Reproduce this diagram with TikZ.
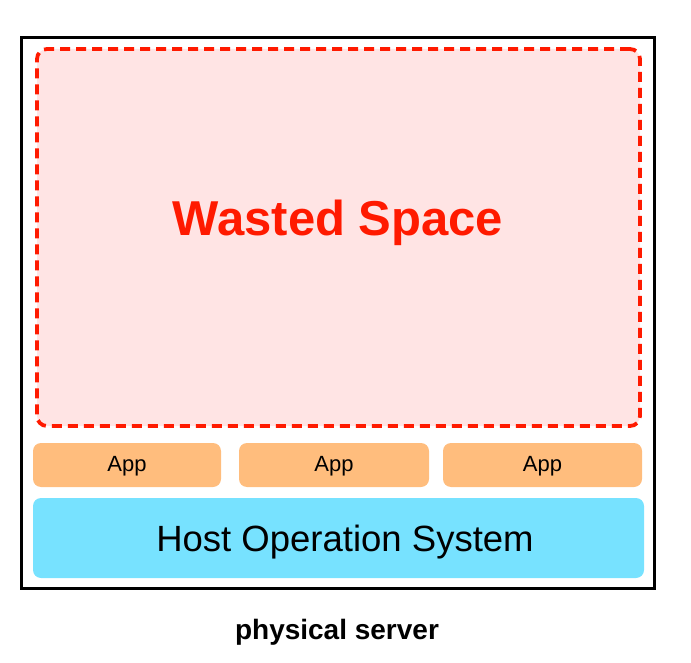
\documentclass[tikz,border=0pt]{standalone}
\usepackage{fontspec}
\setmainfont{Liberation Sans}
\definecolor{wastefill}{HTML}{FFE4E4}
\definecolor{wastered}{HTML}{FF1A00}
\definecolor{appfill}{HTML}{FFBD7D}
\definecolor{hostfill}{HTML}{77E2FF}
\tikzset{
  block/.style={rectangle, inner sep=0pt, outer sep=0pt, rounded corners=8pt},
  appbox/.style={block, fill=appfill, minimum height=44pt, text depth=2pt,
    font=\fontsize{22}{24}\selectfont}
}
\begin{document}
\begin{tikzpicture}[x=1pt,y=-1pt]
  \useasboundingbox (0,0) rectangle (691,663);
  \node[rectangle, draw=black, line width=3pt, minimum width=633pt,
        minimum height=551pt, inner sep=0pt] (server) at (338,313) {};
  \node[block, fill=wastefill, draw=wastered, line width=3.8pt,
        dash pattern=on 10pt off 6pt, rounded corners=10pt,
        minimum width=603pt, minimum height=377pt] (waste) at (338.5,237.5) {};
  \node[text=wastered, font=\bfseries\fontsize{49}{52}\selectfont] (wastelabel)
    at (338,223) {Wasted Space};
  \node[appbox, minimum width=188pt] (app1) at (127,465) {App};
  \node[appbox, minimum width=190pt] (app2) at (334,465) {App};
  \node[appbox, minimum width=199pt] (app3) at (542.5,465) {App};
  \node[block, fill=hostfill, minimum width=611pt, minimum height=80pt] (host)
    at (338.5,538) {};
  \node[font=\fontsize{36.5}{40}\selectfont] (hostlabel)
    at (345,542) {Host Operation System};
  \node[font=\bfseries\fontsize{28}{30}\selectfont] (serverlabel)
    at (337,632) {physical server};
\end{tikzpicture}
\end{document}
